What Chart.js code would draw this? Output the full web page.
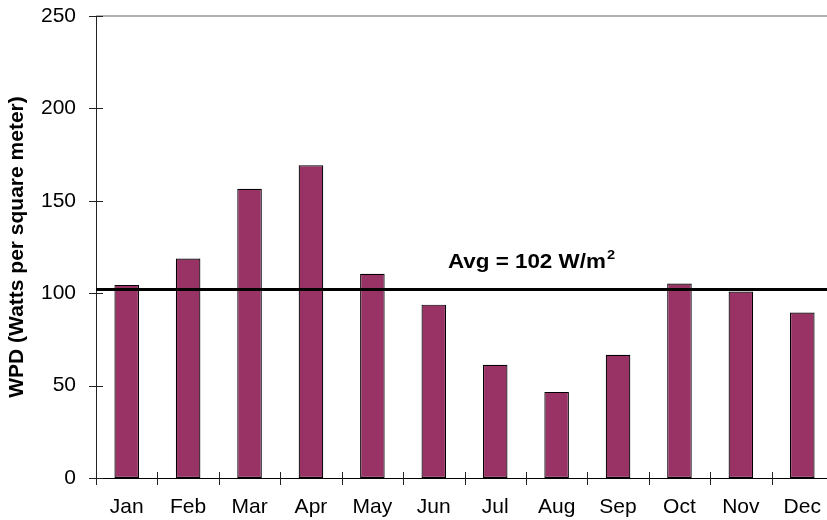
<!DOCTYPE html>
<html>
<head>
<meta charset="utf-8">
<script src="https://cdn.jsdelivr.net/npm/chart.js@4.4.1/dist/chart.umd.min.js"></script>
<style>
  html, body { margin: 0; padding: 0; background: #fff; overflow: hidden; }
  #wrap { width: 840px; height: 520px; }
</style>
</head>
<body>
<div id="wrap"><canvas id="c" width="840" height="520"></canvas></div>
<script>
const months = ['Jan','Feb','Mar','Apr','May','Jun','Jul','Aug','Sep','Oct','Nov','Dec'];
const wpd = [104.5, 118.8, 156.5, 169.2, 110.5, 93.8, 61.3, 46.6, 66.7, 105.2, 100.9, 89.5];
const avgValue = 102;
const avgLabel = 'Avg = 102 W/m';
const avgSup = '2';
const yTitle = 'WPD (Watts per square meter)';
const yMin = 0, yMax = 250, yStep = 50;

const FONT = "'Liberation Sans', Arial, sans-serif";

const decor = {
  id: 'decor',
  beforeDatasetsDraw(chart) {
    const ctx = chart.ctx, a = chart.chartArea;
    const x = chart.scales.x, y = chart.scales.y;
    ctx.save();
    ctx.strokeStyle = '#b0b0b0';
    ctx.lineWidth = 2;
    const yt = y.getPixelForValue(yMax);
    ctx.beginPath(); ctx.moveTo(a.left, yt); ctx.lineTo(a.right, yt); ctx.stroke();
    ctx.strokeStyle = '#222';
    ctx.lineWidth = 1;
    y.ticks.forEach((t, i) => {
      const py = Math.round(y.getPixelForTick(i)) + 0.5;
      ctx.beginPath(); ctx.moveTo(a.left - 7, py); ctx.lineTo(a.left + 7, py); ctx.stroke();
    });
    for (let i = 0; i <= months.length; i++) {
      const px = Math.round(x.getPixelForValue(i - 0.5)) + 0.5;
      ctx.beginPath(); ctx.moveTo(px, a.bottom - 6); ctx.lineTo(px, a.bottom + 7); ctx.stroke();
    }
    ctx.restore();
  },
  afterDatasetsDraw(chart) {
    const ctx = chart.ctx, a = chart.chartArea;
    const x = chart.scales.x, y = chart.scales.y;
    ctx.save();
    const ya = y.getPixelForValue(avgValue);
    ctx.strokeStyle = '#000';
    ctx.lineWidth = 3;
    ctx.beginPath(); ctx.moveTo(a.left, ya); ctx.lineTo(a.right, ya); ctx.stroke();
    ctx.fillStyle = '#000';
    ctx.textBaseline = 'alphabetic';
    ctx.textAlign = 'left';
    const lx = x.getPixelForValue(5.23);
    const ly = ya - 22;
    ctx.translate(lx, ly);
    ctx.scale(1.12, 1);
    ctx.font = "bold 20px " + FONT;
    ctx.fillText(avgLabel, 0, 0);
    const w = ctx.measureText(avgLabel).width;
    ctx.font = "bold 13px " + FONT;
    ctx.fillText(avgSup, w + 1, -9);
    ctx.restore();
  }
};

new Chart(document.getElementById('c'), {
  type: 'bar',
  data: {
    labels: months,
    datasets: [{
      data: wpd,
      backgroundColor: '#993366',
      borderColor: '#000',
      borderWidth: 1.2,
      borderSkipped: false,
      barPercentage: 0.4,
      categoryPercentage: 1.0
    }]
  },
  options: {
    responsive: false,
    animation: false,
    events: [],
    layout: { padding: { top: 16, right: 7, left: 0, bottom: 0 } },
    plugins: { legend: { display: false }, tooltip: { enabled: false } },
    scales: {
      x: {
        offset: true,
        grid: { display: false, drawTicks: false },
        border: { display: true, color: '#000', width: 1 },
        ticks: { color: '#000', font: { family: FONT, size: 21 }, padding: 17, maxRotation: 0, autoSkip: false },
        afterFit(s) { s.height = 42; s.paddingLeft = 0; s.paddingRight = 0; }
      },
      y: {
        min: yMin, max: yMax,
        grid: { display: false, drawTicks: false },
        border: { display: true, color: '#222', width: 1 },
        ticks: { stepSize: yStep, color: '#000', font: { family: FONT, size: 21 }, padding: 20 },
        title: { display: true, text: yTitle, color: '#000', font: { family: FONT, size: 21, weight: 'bold' }, padding: 5 },
        afterFit(s) { s.width = 96; s.paddingTop = 0; s.paddingBottom = 0; }
      }
    }
  },
  plugins: [decor]
});
</script>
</body>
</html>
